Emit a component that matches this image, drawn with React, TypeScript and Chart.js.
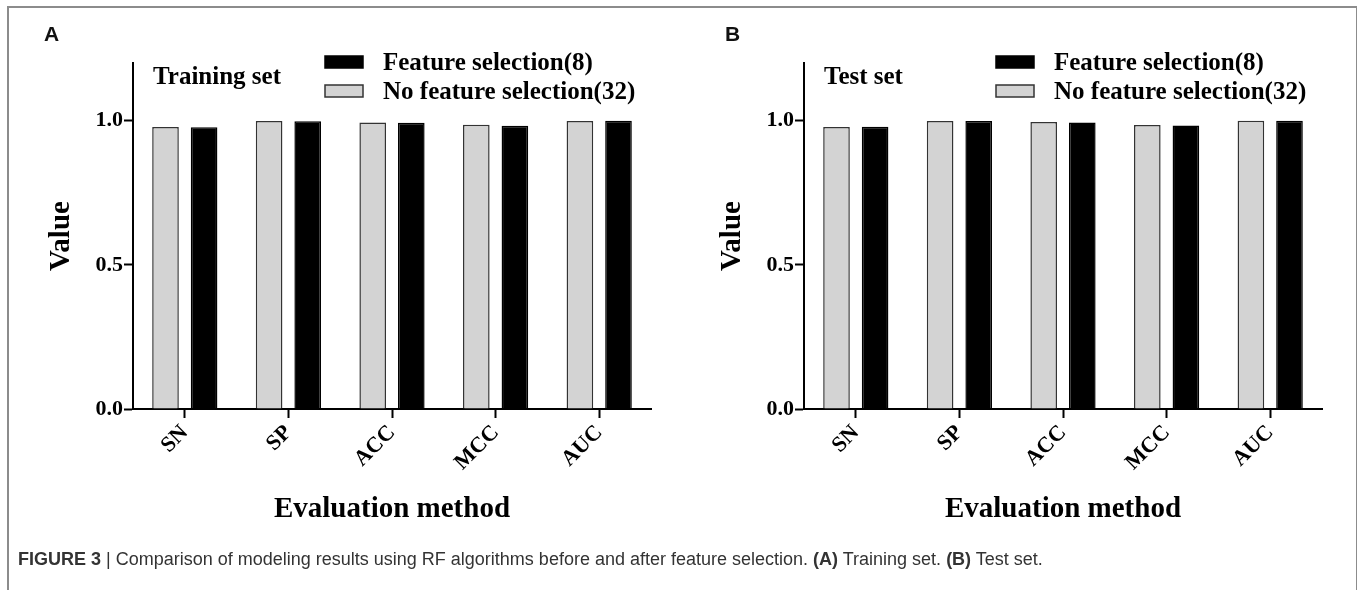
import React, { useEffect, useRef } from 'react';
import { Chart, registerables } from 'chart.js';

Chart.register(...registerables);

const categories = ['SN', 'SP', 'ACC', 'MCC', 'AUC'];
const seriesLabels = ['No feature selection(32)', 'Feature selection(8)'];
const trainingNoFS = [0.978, 0.999, 0.994, 0.986, 0.999];
const trainingFS = [0.977, 0.998, 0.993, 0.982, 1.0];
const testNoFS = [0.978, 0.999, 0.995, 0.985, 1.0];
const testFS = [0.979, 0.999, 0.994, 0.983, 1.0];
const yTickValues = [0, 0.5, 1.0];
const yMax = 1.2;

const SERIF = '"Liberation Serif", "Times New Roman", serif';

const overlayPlugin = {
  id: 'overlay',
  afterDraw(chart: any, _args: any, opts: any) {
    const ctx = chart.ctx;
    const { left, right, top, bottom } = chart.chartArea;
    ctx.save();
    ctx.fillStyle = '#000';
    ctx.textBaseline = 'middle';
    ctx.textAlign = 'left';
    ctx.font = `bold 25px ${SERIF}`;
    ctx.fillText(opts.setLabel, left + 20, 78);

    const ds = chart.data.datasets.slice().reverse();
    ds.forEach((d: any, i: number) => {
      const y = 62 + i * 29;
      const x = left + 192;
      ctx.fillStyle = d.backgroundColor;
      ctx.fillRect(x, y - 6, 38, 12);
      ctx.lineWidth = 1.5;
      ctx.strokeStyle = d.borderColor;
      ctx.strokeRect(x, y - 6, 38, 12);
      ctx.fillStyle = '#000';
      ctx.font = `bold 25px ${SERIF}`;
      ctx.fillText(d.label, x + 58, y + 2);
    });

    ctx.font = `bold 29px ${SERIF}`;
    ctx.textAlign = 'center';
    ctx.fillText('Evaluation method', (left + right) / 2, 510);

    ctx.translate(left - 71, (top + bottom) / 2);
    ctx.rotate(-Math.PI / 2);
    ctx.font = `bold 29px ${SERIF}`;
    ctx.fillText('Value', 0, 0);
    ctx.restore();
  },
};

function Panel({ noFS, fs, setLabel }: { noFS: number[]; fs: number[]; setLabel: string }) {
  const ref = useRef<HTMLCanvasElement | null>(null);
  useEffect(() => {
    if (!ref.current) return;
    const chart = new Chart(ref.current, {
      type: 'bar',
      data: {
        labels: categories,
        datasets: [
          {
            label: seriesLabels[0],
            data: noFS,
            backgroundColor: '#d3d3d3',
            borderColor: '#333',
            borderWidth: 1.5,
          },
          {
            label: seriesLabels[1],
            data: fs,
            backgroundColor: '#000',
            borderColor: '#000',
            borderWidth: 1.5,
          },
        ],
      },
      options: {
        animation: false,
        responsive: false,
        events: [],
        categoryPercentage: 0.745,
        barPercentage: 0.69,
        layout: { padding: { left: 0, top: 63, right: 29, bottom: 0 } },
        plugins: {
          legend: { display: false },
          tooltip: { enabled: false },
          overlay: { setLabel },
        } as any,
        scales: {
          x: {
            afterFit: (s: any) => {
              s.height = 181;
            },
            grid: {
              offset: false,
              drawOnChartArea: false,
              drawTicks: true,
              tickLength: 9,
              tickWidth: 2,
              tickColor: '#000',
            },
            border: { display: true, color: '#000', width: 2 },
            ticks: {
              color: '#000',
              font: { family: SERIF, size: 22, weight: 'bold' },
              maxRotation: 45,
              minRotation: 45,
              padding: 2,
            },
          },
          y: {
            min: 0,
            max: yMax,
            afterFit: (s: any) => {
              s.width = 133;
            },
            afterBuildTicks: (s: any) => {
              s.ticks = yTickValues.map((v) => ({ value: v }));
            },
            grid: {
              drawOnChartArea: false,
              drawTicks: true,
              tickLength: 9,
              tickWidth: 2,
              tickColor: '#000',
            },
            border: { display: true, color: '#000', width: 2 },
            ticks: {
              color: '#000',
              font: { family: SERIF, size: 22, weight: 'bold' },
              padding: 1,
              callback: (v: any) => Number(v).toFixed(1),
            },
          },
        },
      },
      plugins: [overlayPlugin],
    } as any);
    return () => chart.destroy();
  }, [noFS, fs, setLabel]);
  return <canvas ref={ref} width={680} height={590} style={{ display: 'block', width: 680, height: 590 }} />;
}

export default function App() {
  return (
    <div
      style={{
        position: 'absolute',
        left: 0,
        top: 0,
        width: 1357,
        height: 590,
        background: '#fff',
        overflow: 'hidden',
      }}
    >
      <div
        style={{
          position: 'absolute',
          left: 7,
          top: 6,
          width: 1347,
          height: 600,
          borderLeft: '2px solid #8c8c8c',
          borderTop: '2px solid #8c8c8c',
          borderRight: '2px solid #8c8c8c',
        }}
      />
      <div style={{ position: 'absolute', left: 0, top: 0 }}>
        <Panel noFS={trainingNoFS} fs={trainingFS} setLabel="Training set" />
      </div>
      <div style={{ position: 'absolute', left: 671, top: 0 }}>
        <Panel noFS={testNoFS} fs={testFS} setLabel="Test set" />
      </div>
      <div
        style={{
          position: 'absolute',
          left: 44,
          top: 22,
          font: 'bold 21px "Liberation Sans", Arial, sans-serif',
          color: '#111',
        }}
      >
        A
      </div>
      <div
        style={{
          position: 'absolute',
          left: 725,
          top: 22,
          font: 'bold 21px "Liberation Sans", Arial, sans-serif',
          color: '#111',
        }}
      >
        B
      </div>
      <div
        style={{
          position: 'absolute',
          left: 18,
          top: 549,
          font: '18px "Liberation Sans", Arial, sans-serif',
          color: '#333',
          whiteSpace: 'nowrap',
        }}
      >
        <b>FIGURE 3</b> | Comparison of modeling results using RF algorithms before and after feature selection.{' '}
        <b>(A)</b> Training set. <b>(B)</b> Test set.
      </div>
    </div>
  );
}
